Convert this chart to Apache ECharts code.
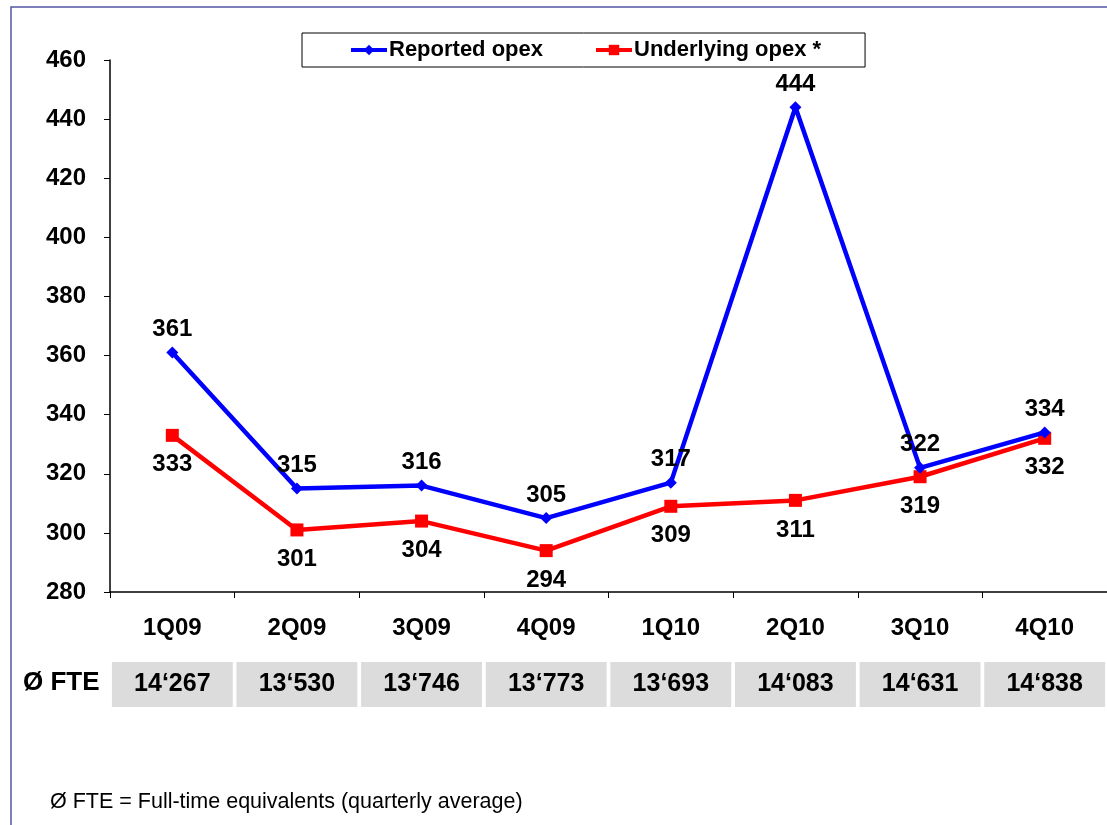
<!DOCTYPE html>
<html>
<head>
<meta charset="utf-8">
<script src="https://cdn.jsdelivr.net/npm/echarts@6/dist/echarts.min.js"></script>
<style>
  html, body { margin: 0; padding: 0; background: #fff; }
  #chart { width: 1107px; height: 825px; }
</style>
</head>
<body>
<div id="chart"></div>
<script>
// data
const categories = ['1Q09', '2Q09', '3Q09', '4Q09', '1Q10', '2Q10', '3Q10', '4Q10'];
const reportedOpex = [361, 315, 316, 305, 317, 444, 322, 334];
const underlyingOpex = [333, 301, 304, 294, 309, 311, 319, 332];
const fteValues = ['14‘267', '13‘530', '13‘746', '13‘773', '13‘693', '14‘083', '14‘631', '14‘838'];

const FONT = '"Liberation Sans", Arial, sans-serif';

const chart = echarts.init(document.getElementById('chart'));

const option = {
  animation: false,
  backgroundColor: '#fff',
  textStyle: { fontFamily: FONT },
  legend: {
    left: 302,
    top: 33,
    padding: [6, 44, 6, 47],
    itemGap: 51,
    itemWidth: 36,
    itemHeight: 13,
    borderColor: '#000',
    borderWidth: 1,
    lineStyle: { width: 4 },
    textStyle: { fontFamily: FONT, fontSize: 22, fontWeight: 'bold', color: '#000', padding: [0, 0, 0, -3] },
    data: ['Reported opex', 'Underlying opex *']
  },
  grid: [
    { left: 110, top: 60, width: 1006, height: 532 },
    { left: 110, top: 662, width: 1006, height: 45 }
  ],
  xAxis: [
    {
      type: 'category',
      gridIndex: 0,
      data: categories,
      boundaryGap: true,
      axisLine: { lineStyle: { color: '#000', width: 1.5 } },
      axisTick: { show: true, length: 6, lineStyle: { color: '#000' } },
      axisLabel: { fontFamily: FONT, fontSize: 24, fontWeight: 'bold', color: '#000', margin: 24 }
    },
    {
      type: 'category',
      gridIndex: 1,
      data: categories,
      show: false
    }
  ],
  yAxis: [
    {
      type: 'value',
      gridIndex: 0,
      min: 280,
      max: 460,
      interval: 20,
      axisLine: { show: true, lineStyle: { color: '#000', width: 1.5 } },
      axisTick: { show: true, length: 6, lineStyle: { color: '#000' } },
      splitLine: { show: false },
      axisLabel: { fontFamily: FONT, fontSize: 24, fontWeight: 'bold', color: '#000', margin: 24 }
    },
    {
      type: 'value',
      gridIndex: 1,
      min: 0,
      max: 1,
      show: false
    }
  ],
  series: [
    {
      name: 'Reported opex',
      type: 'line',
      data: reportedOpex,
      symbol: 'diamond',
      symbolSize: 12,
      lineStyle: { color: '#0000ff', width: 4.5 },
      itemStyle: { color: '#0000ff' },
      label: {
        show: true,
        position: 'top',
        distance: 5,
        fontFamily: FONT,
        fontSize: 24,
        fontWeight: 'bold',
        color: '#000'
      },
      z: 3
    },
    {
      name: 'Underlying opex *',
      type: 'line',
      data: underlyingOpex,
      symbol: 'rect',
      symbolSize: 13,
      lineStyle: { color: '#ff0000', width: 4.5 },
      itemStyle: { color: '#ff0000' },
      label: {
        show: true,
        position: 'bottom',
        distance: 11,
        fontFamily: FONT,
        fontSize: 24,
        fontWeight: 'bold',
        color: '#000'
      },
      z: 2
    },
    {
      name: 'FTE',
      type: 'bar',
      xAxisIndex: 1,
      yAxisIndex: 1,
      data: fteValues.map(() => 1),
      barCategoryGap: '3%',
      itemStyle: { color: '#dcdcdc' },
      silent: true,
      label: {
        show: true,
        position: 'inside',
        formatter: (p) => fteValues[p.dataIndex],
        fontFamily: FONT,
        fontSize: 25,
        fontWeight: 'bold',
        color: '#000'
      }
    }
  ],
  graphic: [
    {
      type: 'rect',
      shape: { x: 11, y: 7, width: 1200, height: 900 },
      style: { fill: 'none', stroke: '#5454a4', lineWidth: 1.5 },
      silent: true
    },
    {
      type: 'text',
      left: 23,
      top: 670,
      style: { text: 'Ø FTE', font: 'bold 26px ' + FONT, fill: '#000' }
    },
    {
      type: 'text',
      left: 50,
      top: 791,
      style: { text: 'Ø FTE = Full-time equivalents (quarterly average)', font: '21.5px ' + FONT, fill: '#000' }
    }
  ]
};

chart.setOption(option);
</script>
</body>
</html>
